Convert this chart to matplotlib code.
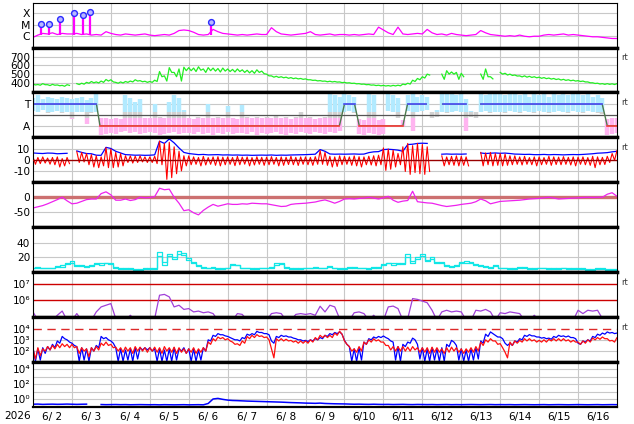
import numpy as np
import matplotlib
matplotlib.use('Agg')
import matplotlib.pyplot as plt
from matplotlib.ticker import FixedLocator, FixedFormatter, NullLocator

nan = np.nan

# ---------------- data ----------------
year_label = '2026'
day_labels = ['6/ 2', '6/ 3', '6/ 4', '6/ 5', '6/ 6', '6/ 7', '6/ 8', '6/ 9',
              '6/10', '6/11', '6/12', '6/13', '6/14', '6/15', '6/16']
n_days = 15
samples_per_day = 8          # 3-hourly readings

# Panel 1: X-ray flux (log10 W/m2)
xrs_log = [
    -6.1, -5.9, -5.75, -5.8, -5.7, -5.85, -5.75, -5.8,
    -5.8, -5.75, -5.85, -5.8, -5.9, -5.85, -5.9, -5.6,
    -5.75, -5.85, -5.9, -5.8, -5.85, -5.9, -5.85, -5.8,
    -5.9, -5.95, -5.9, -5.85, -5.9, -5.75, -5.5, -5.45,
    -5.5, -5.65, -5.85, -5.9, -5.85, -5.4, -5.6, -5.75,
    -5.8, -5.85, -5.9, -5.85, -5.9, -5.85, -5.8, -5.85,
    -5.85, -5.25, -5.6, -5.8, -5.85, -5.9, -5.85, -5.8,
    -5.75, -5.6, -5.85, -5.9, -5.85, -5.8, -5.9, -5.85,
    -5.85, -5.9, -5.85, -5.9, -5.85, -5.8, -5.85, -5.2,
    -5.45, -5.7, -5.85, -5.2, -5.8, -5.85, -5.8, -5.75,
    -5.8, -5.4, -5.7, -5.85, -5.8, -5.9, -5.75, -5.85,
    -5.9, -5.95, -5.9, -5.85, -5.5, -5.7, -5.85, -5.9,
    -5.95, -6.0, -5.95, -6.0, -5.9, -6.0, -6.05, -6.0,
    -6.0, -5.9, -5.85, -5.9, -5.85, -5.8, -5.9, -5.85,
    -5.9, -5.95, -6.0, -6.05, -6.05, -6.1, -6.15, -6.2,
    -6.2]
flare_t = [0.2, 0.42, 0.70, 1.06, 1.29, 1.46, 4.56]
flare_log = [-4.9, -4.9, -4.45, -4.0, -4.09, -3.91, -4.73]
flare_base_log = -5.85

# Panel 2: solar wind speed (km/s)
speed = [
    385, 380, 390, 378, 382, 375, 370, 378,
    nan, 390, 395, 405, 415, 410, 420, 438,
    435, 405, 410, 415, 420, 435, 425, 418,
    415, 430, 530, 480, 575, 520, 560, 580,
    575, 570, 585, 560, 575, 570, 565, 570,
    560, 555, 560, 550, 545, 540, 550, 535,
    500, 480, 475, 470, 465, 460, 455, 450,
    445, 435, 430, 425, 420, 418, 415, 410,
    405, 400, 395, 390, 385, 380, 375, 372,
    370, 368, 370, 372, 385, 395, 430, 450,
    470, 500, nan, nan, 500, 540, 525, 520,
    510, nan, nan, nan, 500, 560, 470, nan,
    520, 510, 500, 490, 480, 480, 475, 470,
    465, 460, 455, 450, 445, 440, 435, 430,
    425, 420, 410, 400, 395, 390, 390, 388,
    390]
speed_lo = [
    375, 372, 378, 368, 372, 366, 360, 370,
    nan, 380, 384, 395, 400, 398, 405, 420,
    410, 395, 398, 405, 410, 420, 412, 405,
    405, 415, 470, 420, 520, 470, 420, 540,
    540, 530, 545, 520, 540, 535, 525, 535,
    530, 525, 530, 520, 515, 510, 520, 505,
    480, 465, 462, 458, 452, 448, 445, 440,
    435, 428, 422, 418, 412, 410, 408, 402,
    398, 393, 388, 383, 378, 373, 368, 365,
    363, 362, 364, 365, 378, 385, 415, 435,
    455, 490, nan, nan, 440, 500, 500, 440,
    470, nan, nan, nan, 440, 470, 445, nan,
    500, 490, 485, 478, 468, 465, 462, 458,
    452, 448, 443, 438, 432, 428, 424, 420,
    415, 410, 400, 392, 386, 382, 382, 380,
    382]

# Panel 3: IMF sector (T = +1, A = -1)
pol_t = [0, 1.63, 1.72, 7.87, 8.0, 8.26, 8.38, 9.5, 9.62, 10.1, 10.1,
         10.52, 11.12, 11.12, 11.5, 14.62, 14.75, 15.0]
pol_v = [1, 1, -1, -1, 1, 1, -1, -1, 1, 1, nan, 1, 1, nan, 1, 1, -1, -1]
pol_hi = [
    1.6, 1.8, 1.5, 1.7, 1.6, 1.5, 1.7, 1.6,
    1.5, 1.6, 1.7, 1.4, 1.6, 1.9, -0.3, -0.3,
    -0.4, -0.3, -0.4, 1.8, 1.6, 1.2, 1.5, -0.3,
    -0.3, 1.0, -0.2, -0.3, 1.2, 1.8, 1.6, 0.5,
    -0.3, -0.4, -0.2, -0.3, 1.0, -0.3, -0.2, -0.3,
    0.8, -0.3, -0.4, 0.9, -0.2, -0.3, -0.2, -0.3,
    -0.2, -0.3, -0.1, -0.3, -0.2, -0.4, -0.2, 0.3,
    -0.3, -0.2, -0.4, -0.3, -0.2, 1.9, 1.8, 1.7,
    1.9, 1.8, 1.7, -0.4, -0.5, 1.9, 1.8, -0.5,
    -0.4, 1.9, 1.8, 1.6, -0.5, 1.8, 1.9, 1.7,
    1.8, 1.7, 0.3, 0.5, 1.9, 2.0, 1.9, 1.8,
    1.9, 1.5, 0.4, 0.3, 1.9, 1.8, 2.0, 1.9,
    1.9, 1.8, 1.9, 2.0, 1.8, 1.9, 1.7, 1.9,
    1.8, 1.9, 1.7, 1.9, 1.8, 2.0, 1.8, 1.9,
    1.9, 1.8, 1.9, 1.7, 1.8, 1.6, -0.4, -0.3,
    -0.3]
pol_lo = [
    0.4, 0.3, 0.5, 0.2, 0.3, 0.4, 0.2, 0.3,
    -0.4, 0.3, 0.3, -0.8, 0.2, 0.3, -1.9, -1.8,
    -1.7, -1.8, -1.6, -1.5, -1.7, -1.6, -1.8, -1.7,
    -1.6, -1.7, -1.9, -1.8, -1.7, -1.6, -1.8, -1.7,
    -1.7, -1.8, -1.6, -1.8, -1.7, -1.9, -1.7, -1.8,
    -1.6, -1.8, -1.7, -1.7, -1.8, -1.6, -1.9, -1.7,
    -1.8, -1.7, -1.6, -1.8, -1.9, -1.7, -1.8, -1.6,
    -1.7, -1.8, -1.6, -1.7, -1.8, -1.6, -1.7, -1.5,
    0.3, 0.4, 0.2, -1.8, -1.9, -1.7, -1.8, -1.9,
    -1.8, 0.4, 0.3, -0.3, -1.0, 0.4, -1.5, 0.3,
    0.4, 0.5, -0.3, -0.2, 0.3, 0.2, 0.3, 0.4,
    0.3, -1.5, -0.2, -0.3, 0.3, 0.4, 0.2, 0.3,
    0.3, 0.2, 0.4, 0.3, 0.2, 0.4, 0.3, 0.2,
    0.4, 0.3, 0.2, 0.3, 0.4, 0.3, 0.2, 0.4,
    0.3, 0.2, 0.4, 0.3, 0.2, 0.1, -1.9, -1.8,
    -1.7]

# Panel 4: IMF Bt and Bz (nT)
bt = [
    6.5, 6.2, 6.0, 6.4, 6.3, 5.8, 6.0, 6.2,
    nan, 8.3, 7.0, 6.0, 5.8, 4.5, 4.4, 11.5,
    10.5, 8.0, 6.5, 5.0, 4.8, 4.5, 4.6, 4.4,
    4.5, 4.8, 17.0, 15.0, 19.0, 15.5, 11.0, 7.0,
    6.0, 5.5, 5.0, 5.2, 4.8, 4.9, 5.0, 4.7,
    4.8, 4.6, 4.7, 4.5, 4.6, 4.4, 4.5, 4.6,
    4.5, 4.7, 4.4, 4.6, 4.5, 4.7, 4.8, 4.9,
    5.0, 5.2, 5.4, 9.5, 8.0, 5.6, 5.4, 5.5,
    5.4, 5.5, 5.6, 5.4, 5.5, 6.8, 7.5, 7.7,
    9.5, 9.8, 9.5, 9.0, 8.0, 14.0, 14.3, 15.0,
    15.2, 15.0, nan, nan, 5.4, 5.6, 5.4, 5.5,
    5.4, 5.6, nan, nan, 6.5, 6.0, 6.3, 6.5,
    6.2, 6.4, 6.0, 5.5, 5.4, 5.2, 5.3, 5.0,
    5.0, 5.2, 4.9, 5.1, 5.0, 4.8, 5.0, 5.1,
    5.0, 5.2, 5.5, 5.8, 6.3, 6.5, 6.8, 7.5,
    8.0]
bz_hi = [
    3, 2.5, 3, 2, 2.5, 3, 1.5, 2.5,
    nan, 7.7, 7, 6, 5, 4, 3, 11.3,
    10, 7, 6, 4, 3.9, 3.5, 3.9, 3,
    3, 3.5, 17, 15, 16, 12, 8, 4,
    3.9, 3, 2.5, 3.5, 2.4, 3, 3.2, 2.8,
    3, 2.5, 3.5, 2.8, 3, 2.4, 3.1, 2.6,
    2.8, 3.2, 2.5, 3, 2.7, 3.5, 2.6, 3,
    3, 2.6, 3.2, 8.7, 7, 3.5, 3, 3.9,
    3.5, 3, 3.9, 3.2, 3, 3.6, 4, 4.5,
    11, 10, 9, 6, 12, 15, 13, 15,
    14, 12, nan, nan, 3.9, 3, 3.5, 3.9,
    3.5, 3, nan, nan, 7, 6.5, 7, 6,
    6, 5.5, 4, 3.9, 3, 3.5, 2.4, 3,
    3, 2.4, 3.5, 3, 2.8, 3.2, 2.6, 3,
    2.8, 3, 2.4, 3.5, 3, 2.6, 3.5, 6,
    8.7]
bz_lo = [
    -3.6, -3, -2.5, -3.5, -4, -6, -5, -3,
    nan, -2, -1.5, -4, -6, -6.6, -5, -6.6,
    -6.6, -6, -5, -2, -2.5, -2, -1.5, -2,
    -2, -3, -4, -17, -15.5, -12, -9.5, -5,
    -4, -3.6, -5, -4.2, -3.6, -4.5, -5, -4,
    -3.6, -4.8, -4, -3.5, -5, -4.2, -3.6, -4.5,
    -4, -3.6, -5, -4.5, -3.8, -4, -4.6, -3.6,
    -4, -4.5, -3.6, -3.6, -4.5, -6, -5.5, -4,
    -3.6, -4.5, -5, -6, -4, -4.2, -5, -4,
    -9, -8, -6, -4, -10, -12.6, -11, -12,
    -12.6, -10, nan, nan, -5, -4, -4.5, -5,
    -4.5, -5, nan, nan, -5, -4, -5, -4.5,
    -5, -4.5, -4, -3.6, -4.2, -3.6, -4, -5,
    -4, -3.6, -4.5, -3.8, -4, -3.6, -4.2, -5,
    -3.6, -4, -4.5, -6.6, -4, -3.8, -2, 0,
    3]

# Panel 5: Dst (nT)
dst = [
    -36, -32, -28, -22, -15, -8, 0, -12,
    -22, -20, -14, -8, -6, -6, 12, 18,
    8, -10, -10, -6, -11, -8, 0, -2,
    -1, 2, 30, 25, 27, 0, -20, -45,
    -42, -52, -59, -44, -33, -24, -30, -26,
    -22, -24, -24, -22, -23, -20, -21, -22,
    -22, -25, -28, -31, -30, -24, -22, -21,
    -20, -18, -16, -12, -9, -14, -20, -14,
    -6, -5, -6, -4, -3, 0, -3, -6,
    -2, 3, -10, -17, -13, -11, 20, -15,
    -17, -19, -20, -24, -28, -31, -29, -27,
    -24, -22, -20, -15, -6, -12, -22, -18,
    -14, -13, -12, -11, -10, -8, -6, -5,
    -4, -2, 0, -3, -6, -5, -4, -3,
    -2, -1, 0, -1, 0, 0, 10, 15,
    3]

# Panel 6: two cyan series
cyan_a = [
    6, 7, 5, 6, 5, 8, 7, 13,
    15, 8, 10, 7, 9, 11, 12, 13,
    13, 6, 5, 4, 5, 3, 4, 5,
    4, 5, 27, 10, 25, 18, 29, 23,
    17, 12, 10, 6, 5, 7, 4, 5,
    6, 11, 9, 5, 6, 4, 5, 6,
    5, 7, 12, 11, 6, 5, 4, 5,
    6, 5, 7, 5, 6, 8, 5, 4,
    5, 6, 7, 5, 6, 4, 7, 6,
    11, 13, 10, 12, 11, 24, 13, 20,
    22, 15, 20, 12, 14, 8, 7, 9,
    14, 15, 12, 10, 8, 7, 6, 9,
    5, 6, 4, 5, 7, 6, 5, 4,
    6, 5, 4, 5, 4, 6, 4, 5,
    4, 5, 3, 4, 5, 4, 3, 4,
    3]
cyan_b = [
    5, 6, 6, 5, 6, 7, 9, 11,
    13, 10, 8, 8, 8, 12, 10, 12,
    11, 7, 4, 5, 4, 4, 3, 4,
    5, 4, 22, 14, 22, 21, 25, 26,
    19, 14, 8, 7, 6, 5, 5, 4,
    5, 9, 10, 6, 5, 5, 4, 5,
    6, 6, 10, 13, 7, 4, 5, 4,
    5, 6, 6, 6, 5, 7, 6, 5,
    4, 7, 6, 6, 5, 5, 6, 7,
    9, 12, 12, 11, 13, 20, 15, 18,
    24, 17, 18, 14, 12, 9, 8, 8,
    12, 13, 14, 11, 9, 8, 7, 8,
    6, 5, 5, 4, 6, 7, 4, 5,
    5, 6, 5, 4, 5, 5, 5, 4,
    5, 4, 4, 3, 4, 5, 4, 3,
    4]

# Panel 7: electron flux (log10)
elec_log = [
    5.3, 4.8, 4.8, 4.8, 4.8, 5.1, 5.35, 4.8,
    4.8, 5.2, 4.8, 4.8, 4.8, 5.3, 5.6, 5.7,
    5.8, 4.9, 4.8, 4.8, 5.1, 4.8, 4.8, 4.8,
    4.8, 4.9, 6.3, 6.35, 6.2, 5.6, 5.7, 5.45,
    5.5, 5.3, 5.35, 5.25, 5.3, 5.2, 4.8, 4.8,
    4.8, 4.8, 5.2, 5.15, 4.8, 4.8, 4.8, 4.8,
    4.8, 5.2, 5.25, 5.2, 4.8, 4.8, 5.15, 5.2,
    5.15, 5.2, 5.1, 5.64, 5.3, 5.7, 5.6, 4.9,
    4.8, 4.8, 5.25, 5.3, 5.2, 4.8, 5.1, 4.8,
    4.8, 5.6, 5.65, 5.5, 4.8, 4.9, 6.1, 6.05,
    5.95, 5.85, 5.4, 4.8, 5.3, 5.4, 5.3, 5.35,
    5.3, 4.8, 4.8, 5.4, 5.35, 5.45, 5.3, 4.8,
    5.25, 5.2, 5.3, 5.25, 5.2, 4.8, 4.8, 5.1,
    4.8, 4.8, 4.8, 4.8, 4.8, 4.8, 4.8, 4.8,
    5.4, 5.2, 5.4, 5.35, 5.4, 4.9, 4.8, 4.8,
    4.8]

# Panel 8: particle fluxes (log10), blue and red with dropouts
p8_blue = [
    2.3, 2.2, 2.3, 2.4, 2.6, 2.9, 3.3, 3.0,
    2.7, 2.4, 2.3, 2.2, 2.3, 2.5, 3.3, 3.2,
    2.9, 2.3, 2.2, 2.1, 2.2, 2.3, 2.3, 2.3,
    2.3, 2.2, 2.2, 2.1, 2.2, 2.3, 2.2, 2.3,
    2.2, 2.2, 2.1, 2.3, 3.0, 3.4, 3.55, 3.45,
    3.3, 3.1, 3.0, 3.2, 3.5, 3.55, 3.75, 3.65,
    3.55, 2.9, 3.3, 3.4, 3.35, 3.25, 3.1, 3.0,
    2.95, 3.0, 3.1, 3.2, 3.4, 3.55, 3.65, 3.7,
    2.95, 2.4, 2.2, 2.3, 2.8, 3.1, 3.25, 3.3,
    3.34, 3.1, 2.8, 2.4, 2.6, 2.8, 3.15, 2.6,
    2.3, 2.2, 2.3, 2.2, 2.3, 2.6, 2.95, 2.5,
    2.2, 2.1, 2.2, 2.3, 2.9, 3.5, 3.7, 3.4,
    3.25, 2.7, 2.7, 2.9, 3.1, 3.4, 3.46, 3.35,
    3.25, 3.2, 3.15, 3.3, 3.4, 3.35, 3.34, 3.2,
    2.7, 2.9, 3.0, 3.3, 3.5, 3.6, 3.7, 3.65,
    3.6]
p8_blue_lo = [
    1.1, 1.2, 1.8, 2.1, 2.3, 2.7, 3.1, 2.8,
    2.5, 1.1, 1.2, 1.1, 2.0, 2.3, 3.1, 3.0,
    2.7, 1.1, 1.1, 1.2, 1.1, 1.3, 2.1, 2.1,
    2.0, 1.1, 1.1, 1.1, 1.1, 1.2, 2.0, 1.8,
    1.1, 1.1, 1.2, 2.0, 2.9, 3.3, 3.45, 3.35,
    3.2, 3.0, 2.9, 3.1, 3.4, 3.45, 3.65, 3.55,
    3.45, 2.7, 3.2, 3.3, 3.25, 3.15, 3.0, 2.9,
    2.85, 2.9, 3.0, 3.1, 3.3, 3.45, 3.55, 3.5,
    2.6, 1.1, 1.1, 1.2, 2.6, 3.0, 3.15, 3.2,
    3.2, 2.9, 1.2, 1.1, 2.4, 2.7, 3.0, 1.3,
    1.1, 1.1, 1.2, 1.1, 1.1, 2.4, 2.8, 1.2,
    1.1, 1.1, 1.2, 1.3, 2.7, 3.3, 3.55, 3.25,
    3.1, 2.5, 2.5, 2.8, 3.0, 3.3, 3.35, 3.25,
    3.15, 3.1, 3.05, 3.2, 3.3, 3.25, 3.2, 3.1,
    2.6, 2.8, 2.9, 3.2, 3.4, 3.5, 3.6, 3.55,
    3.5]
p8_red = [
    2.2, 2.3, 2.2, 2.4, 2.5, 2.6, 2.65, 2.6,
    2.6, 2.4, 2.3, 2.2, 2.3, 2.4, 2.7, 2.8,
    2.6, 2.35, 2.3, 2.35, 2.3, 2.4, 2.35, 2.3,
    2.3, 2.35, 2.3, 2.4, 2.3, 2.35, 2.3, 2.2,
    2.2, 2.3, 2.2, 2.3, 2.8, 3.1, 3.25, 3.2,
    3.1, 2.8, 2.65, 2.9, 3.3, 3.4, 3.46, 3.35,
    3.25, 2.2, 3.1, 3.1, 3.05, 2.95, 2.9, 2.9,
    2.9, 3.0, 3.2, 3.4, 3.4, 3.4, 3.6, 3.76,
    2.9, 2.4, 2.2, 2.4, 2.8, 3.0, 3.1, 3.0,
    2.8, 2.5, 2.4, 2.4, 2.4, 2.35, 2.4, 2.3,
    2.3, 2.3, 2.35, 2.3, 2.2, 2.3, 2.35, 2.3,
    2.2, 2.2, 2.3, 2.4, 2.8, 3.0, 3.1, 2.9,
    2.66, 1.9, 2.8, 2.9, 2.95, 3.1, 3.1, 3.0,
    2.95, 3.0, 3.05, 3.1, 3.1, 3.1, 3.0, 2.95,
    2.8, 2.9, 3.0, 3.16, 3.2, 3.25, 3.1, 2.95,
    3.2]
p8_red_lo = [
    1.3, 1.6, 2.0, 2.1, 2.2, 2.3, 2.4, 2.3,
    2.3, 1.8, 2.0, 1.5, 2.0, 2.1, 2.5, 2.5,
    2.3, 2.0, 1.9, 2.0, 1.8, 2.0, 2.0, 1.9,
    2.0, 1.9, 1.8, 2.0, 1.9, 1.8, 1.9, 1.8,
    1.9, 1.8, 1.9, 2.0, 2.6, 2.9, 3.1, 3.0,
    2.9, 2.6, 2.5, 2.7, 3.1, 3.2, 3.3, 3.2,
    3.0, 1.4, 2.9, 2.9, 2.9, 2.8, 2.7, 2.7,
    2.7, 2.8, 3.0, 3.2, 3.2, 3.2, 3.4, 3.5,
    2.6, 2.0, 1.9, 2.0, 2.6, 2.8, 2.9, 2.8,
    2.5, 2.1, 2.0, 2.0, 2.0, 2.0, 2.1, 1.9,
    1.9, 1.8, 1.9, 1.9, 1.8, 1.9, 2.0, 1.9,
    1.8, 1.9, 1.9, 2.0, 2.5, 2.8, 2.9, 2.6,
    2.3, 1.4, 2.5, 2.7, 2.8, 2.9, 2.9, 2.8,
    2.8, 2.8, 2.9, 2.9, 2.9, 2.9, 2.8, 2.8,
    2.6, 2.7, 2.8, 3.0, 3.05, 3.1, 2.9, 2.8,
    3.0]

# Panel 9: flux (log10)
p9_log = [
    -0.7, -0.68, -0.72, -0.7, -0.69, -0.71, -0.7, -0.68,
    -0.7, -0.72, -0.7, -0.69, nan, nan, -0.74, -0.76,
    -0.75, -0.74, -0.76, -0.75, -0.77, -0.76, -0.75, -0.76,
    -0.77, -0.76, -0.78, -0.76, -0.77, -0.78, -0.77, -0.76,
    -0.78, -0.77, -0.76, -0.78, -0.6, 0.0, 0.08, -0.05,
    -0.15, -0.2, -0.22, -0.25, -0.28, -0.3, -0.32, -0.34,
    -0.36, -0.38, -0.4, -0.42, -0.45, -0.48, -0.5, -0.52,
    -0.55, -0.56, -0.58, -0.55, -0.6, -0.62, -0.64, -0.65,
    -0.66, -0.68, -0.7, -0.69, -0.71, -0.72, -0.7, -0.72,
    -0.73, -0.72, -0.74, -0.73, -0.72, -0.74, -0.75, -0.73,
    -0.74, -0.75, -0.74, -0.76, -0.75, -0.74, -0.76, -0.75,
    -0.76, -0.75, -0.74, -0.75, -0.76, -0.75, -0.74, -0.76,
    -0.75, -0.76, -0.75, -0.77, -0.76, -0.75, -0.76, -0.77,
    -0.76, -0.75, -0.77, -0.76, -0.75, -0.76, -0.77, -0.76,
    -0.75, -0.76, -0.77, -0.76, -0.75, -0.77, -0.76, -0.75,
    -0.76]

# ---------------- helpers ----------------
t3 = np.arange(n_days * samples_per_day + 1) / samples_per_day
half = 0.5 / samples_per_day


def zig(t, a, b):
    tt = np.column_stack([t, t + half]).ravel()
    vv = np.column_stack([np.asarray(a, float), np.asarray(b, float)]).ravel()
    return tt, vv


GRID = '#c8c8c8'
FS = 7.6
FS_POW = 7.6

fig = plt.figure(figsize=(6.34, 4.24), dpi=100)
gs = fig.add_gridspec(9, 1, left=33 / 634, right=617 / 634,
                      top=1 - 2.7 / 424, bottom=1 - 406.7 / 424, hspace=0)
axes = [fig.add_subplot(gs[i, 0]) for i in range(9)]

for i, ax in enumerate(axes):
    ax.set_xlim(0, n_days)
    ax.xaxis.set_major_locator(FixedLocator(np.arange(1, n_days)))
    ax.xaxis.set_minor_locator(FixedLocator(np.arange(n_days) + 0.5))
    ax.xaxis.set_major_formatter(FixedFormatter([''] * (n_days - 1)))
    if i == 8:
        ax.xaxis.set_minor_formatter(FixedFormatter(day_labels))
    else:
        ax.xaxis.set_minor_formatter(FixedFormatter([''] * n_days))
    ax.tick_params(axis='x', which='both', length=0, labelsize=FS, pad=4)
    ax.tick_params(axis='y', which='both', length=0, labelsize=FS, pad=2)
    ax.grid(True, axis='x', which='major', color=GRID, lw=0.8)
    ax.set_axisbelow(True)
    for s in ('left', 'right'):
        ax.spines[s].set_linewidth(0.8)
    ax.spines['top'].set_linewidth(0.8 if i == 0 else 2.4)
    ax.spines['bottom'].set_linewidth(1.6 if i == 8 else 2.4)


def hgrid(ax, vals):
    for v in vals:
        ax.axhline(v, color=GRID, lw=0.8, zorder=0.5)


# Panel 1
ax = axes[0]
ax.set_yscale('log')
ax.set_ylim(1e-7, 10 ** -3.05)
ax.yaxis.set_major_locator(FixedLocator([1e-6, 1e-5, 1e-4]))
ax.yaxis.set_major_formatter(FixedFormatter(['C', 'M', 'X']))
ax.yaxis.set_minor_locator(NullLocator())
ax.tick_params(axis='y', labelsize=7.8)
hgrid(ax, [1e-6, 1e-5, 1e-4])
ax.plot(t3, 10 ** np.array(xrs_log), color='#ff00ff', lw=0.9)
ax.vlines(flare_t, 10 ** flare_base_log, 10 ** np.array(flare_log), color='#ff00ff', lw=1.6)
ax.plot(flare_t, 10 ** np.array(flare_log), 'o', ms=4.2, mfc='#b8b8ff', mec='#2a2aff', mew=1.0)

# Panel 2
ax = axes[1]
ax.set_ylim(288, 807)
ax.yaxis.set_major_locator(FixedLocator([400, 500, 600, 700]))
hgrid(ax, [400, 500, 600, 700])
tz, vz = zig(t3, speed, speed_lo)
ax.plot(tz, vz, color='#22ee22', lw=0.9)

# Panel 3
ax = axes[2]
ax.set_ylim(-2.08, 2.08)
ax.yaxis.set_major_locator(FixedLocator([-1, 1]))
ax.yaxis.set_major_formatter(FixedFormatter(['A', 'T']))
hgrid(ax, [-1, 1])
hi = np.array(pol_hi)
lo = np.array(pol_lo)
up_lo = np.maximum(lo, 0.25)
m = hi > up_lo
ax.vlines(t3[m], up_lo[m], hi[m], color='#b2eaff', lw=3.2)
mid_hi = np.minimum(hi, 0.25)
mid_lo = np.maximum(lo, -0.25)
m = mid_hi > mid_lo
ax.vlines(t3[m], mid_lo[m], mid_hi[m], color='#d2d2d2', lw=3.2)
dn_hi = np.minimum(hi, -0.25)
m = dn_hi > lo
ax.vlines(t3[m], lo[m], dn_hi[m], color='#ffb4f0', lw=3.2)
ax.axhline(0, color='#555555', lw=0.9)
pt = np.array(pol_t)
pv = np.array(pol_v, float)
ax.plot(pt, pv, color='#4d7a4d', lw=1.0)
ax.plot(pt, np.where(pv > 0, pv, nan), color='#5050ff', lw=1.2)
ax.plot(pt, np.where(pv < 0, pv, nan), color='#ff4040', lw=1.2)

# Panel 4
ax = axes[3]
ax.set_ylim(-19.6, 20.4)
ax.yaxis.set_major_locator(FixedLocator([-10, 0, 10]))
ax.yaxis.set_major_formatter(FixedFormatter(['-10', '0', '10']))
hgrid(ax, [-10, 10])
ax.plot(t3, bt, color='#0000ff', lw=0.9)
tz, vz = zig(t3, bz_hi, bz_lo)
ax.plot(tz, vz, color='#ff0000', lw=0.8)
ax.axhline(0, color='#990000', lw=1.0, zorder=3)

# Panel 5
ax = axes[4]
ax.set_ylim(-100, 50)
ax.yaxis.set_major_locator(FixedLocator([-50, 0]))
ax.yaxis.set_major_formatter(FixedFormatter(['-50', '0']))
hgrid(ax, [-50])
ax.axhline(0, color='#cc7070', lw=2.4, zorder=1)
ax.plot(t3, dst, color='#ee22ee', lw=0.9, zorder=2)

# Panel 6
ax = axes[5]
ax.set_ylim(0, 61.3)
ax.yaxis.set_major_locator(FixedLocator([20, 40]))
hgrid(ax, [20, 40])
ax.plot(t3, cyan_a, color='#11e6e6', lw=0.9, drawstyle='steps-mid')
ax.plot(t3, cyan_b, color='#11e6e6', lw=0.9, drawstyle='steps-mid')

# Panel 7
ax = axes[6]
ax.set_yscale('log')
ax.set_ylim(1e5, 10 ** 7.69)
ax.yaxis.set_major_locator(FixedLocator([1e6, 1e7]))
ax.yaxis.set_major_formatter(FixedFormatter(['10\u2076', '10\u2077']))
ax.yaxis.set_minor_locator(NullLocator())
ax.tick_params(axis='y', labelsize=FS_POW)
ax.axhline(1e6, color='#cc0000', lw=1.0)
ax.axhline(1e7, color='#cc0000', lw=1.0)
ax.plot(t3, 10 ** np.array(elec_log), color='#a040d8', lw=0.9)

# Panel 8
ax = axes[7]
ax.set_yscale('log')
ax.set_ylim(10 ** 1.05, 10 ** 5.03)
ax.yaxis.set_major_locator(FixedLocator([1e2, 1e3, 1e4]))
ax.yaxis.set_major_formatter(FixedFormatter(['10\u00b2', '10\u00b3', '10\u2074']))
ax.yaxis.set_minor_locator(NullLocator())
ax.tick_params(axis='y', labelsize=FS_POW)
hgrid(ax, [1e2, 1e3])
ax.axhline(1e4, color='#dd2a2a', lw=1.0, dashes=(6, 4))
tz, vz = zig(t3, p8_blue, p8_blue_lo)
ax.plot(tz, 10 ** vz, color='#0000ff', lw=0.9)
tz, vz = zig(t3, p8_red, p8_red_lo)
ax.plot(tz, 10 ** vz, color='#ff1010', lw=0.9)

# Panel 9
ax = axes[8]
ax.set_yscale('log')
ax.set_ylim(10 ** -1.03, 10 ** 4.97)
ax.yaxis.set_major_locator(FixedLocator([1e0, 1e2, 1e4]))
ax.yaxis.set_major_formatter(FixedFormatter(['10\u2070', '10\u00b2', '10\u2074']))
ax.yaxis.set_minor_locator(NullLocator())
ax.tick_params(axis='y', labelsize=FS_POW)
hgrid(ax, [1e0, 1e1, 1e2, 1e3, 1e4])
ax.plot(t3, 10 ** np.array(p9_log), color='#0000ff', lw=1.1)

# right-side "rt" markers
for i in (1, 2, 3, 6, 7):
    axes[i].text(1.008, 0.77, 'rt', transform=axes[i].transAxes,
                 fontsize=6, ha='left', va='center', color='#333333')

# year label
fig.text(18 / 634, 1 - 416 / 424, year_label, fontsize=FS, ha='center', va='center')

fig.savefig('out.png', dpi=100)
